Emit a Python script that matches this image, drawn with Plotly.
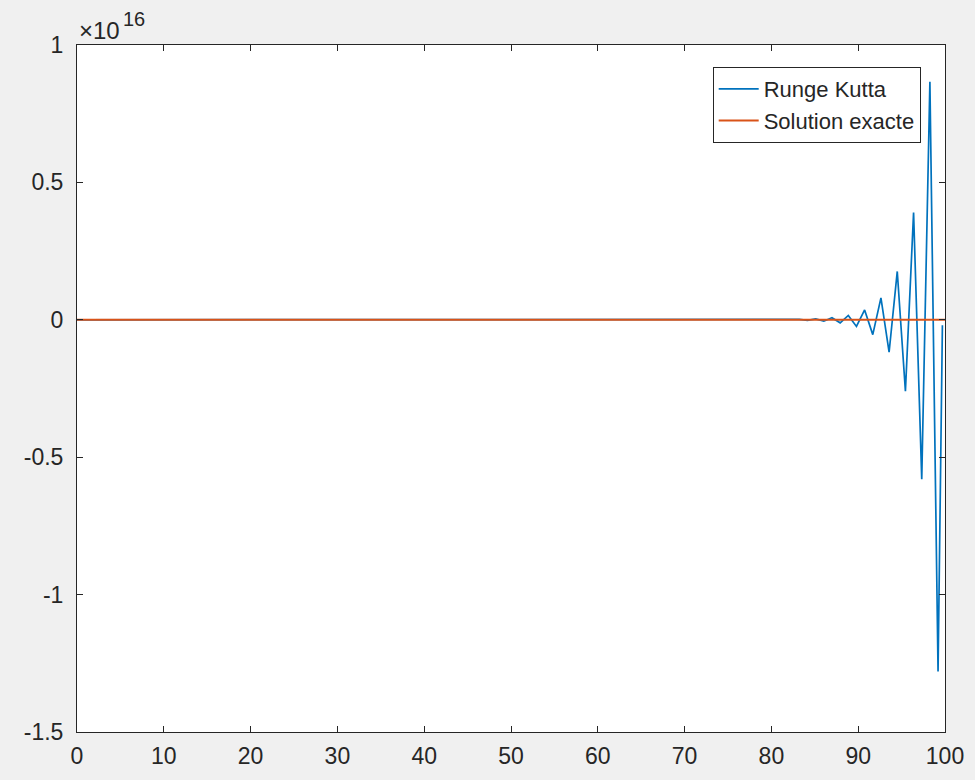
import plotly.graph_objects as go

# Runge-Kutta iterates: flat start, then an alternating, growing instability near t = 100
t_rk = [0, 10, 20, 30, 40, 50, 60, 70, 78.52, 79.46, 80.4, 81.34, 82.28, 83.22, 84.16,
        85.1, 86.04, 86.98, 87.92, 88.86, 89.8, 90.74, 91.68, 92.62, 93.56, 94.5,
        95.44, 96.38, 97.32, 98.26, 99.2, 99.7]
y_rk = [0, 0, 0, 0, 0, 0, 0, 0,
        -0.0002e16, 0.0003e16, -0.0005e16, 0.0007e16, -0.001e16, 0.0015e16,
        -0.0022e16, 0.0033e16, -0.005e16, 0.0074e16, -0.011e16, 0.016e16,
        -0.024e16, 0.036e16, -0.054e16, 0.08e16, -0.118e16, 0.176e16,
        -0.26e16, 0.39e16, -0.58e16, 0.866e16, -1.28e16, -0.02e16]

# Exact solution (negligible on this scale)
t_exact = [0, 100]
y_exact = [0, 0]

xtick_vals = [0, 10, 20, 30, 40, 50, 60, 70, 80, 90, 100]
ytick_vals = [-1.5e16, -1e16, -0.5e16, 0, 0.5e16, 1e16]
ytick_text = ["-1.5", "-1", "-0.5", "0", "0.5", "1"]

FONT = "Liberation Sans, Arial"
TXT = "#262626"

fig = go.Figure()
fig.add_trace(go.Scatter(x=t_rk, y=y_rk, mode="lines", name="Runge Kutta",
                         line=dict(color="#0072BD", width=1.7)))
fig.add_trace(go.Scatter(x=t_exact, y=y_exact, mode="lines", name="Solution exacte",
                         line=dict(color="#D95319", width=2.0)))

axis_color = "#262626"
fig.update_xaxes(range=[0, 100], tickvals=xtick_vals, showgrid=False, zeroline=False,
                 showline=True, linecolor=axis_color, linewidth=1, mirror="ticks",
                 ticks="inside", ticklen=6, tickcolor=axis_color, ticklabelstandoff=3,
                 tickfont=dict(family=FONT, size=23, color=TXT))
fig.update_yaxes(range=[-1.5e16, 1e16], tickvals=ytick_vals, ticktext=ytick_text,
                 showgrid=False, zeroline=False,
                 showline=True, linecolor=axis_color, linewidth=1, mirror="ticks",
                 ticks="inside", ticklen=6, tickcolor=axis_color, ticklabelstandoff=8,
                 tickfont=dict(family=FONT, size=23, color=TXT))

# shared exponent of the y axis: "×10" with a raised "16"
fig.add_annotation(text="×10", xref="paper", yref="paper", x=0, y=1.0,
                   xanchor="left", yanchor="middle", showarrow=False,
                   xshift=0, yshift=15,
                   font=dict(family=FONT, size=24, color=TXT))
fig.add_annotation(text="16", xref="paper", yref="paper", x=0, y=1.0,
                   xanchor="left", yanchor="middle", showarrow=False,
                   xshift=44, yshift=26,
                   font=dict(family=FONT, size=20, color=TXT))

fig.update_layout(
    width=975, height=780,
    margin=dict(l=77, r=30, t=45, b=48),
    paper_bgcolor="#f0f0f0", plot_bgcolor="white",
    showlegend=True,
    legend=dict(x=0.972, y=0.968, xanchor="right", yanchor="top",
                bgcolor="white", bordercolor=axis_color, borderwidth=1,
                itemwidth=40,
                font=dict(family=FONT, size=22, color=TXT)),
)

fig.write_html("out.html")
